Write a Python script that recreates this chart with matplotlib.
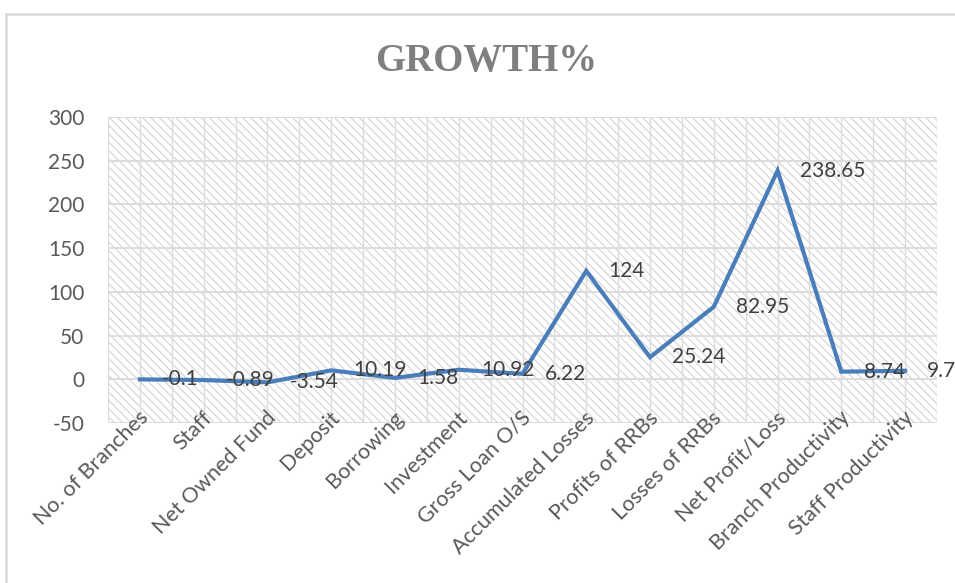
import matplotlib
matplotlib.use("Agg")
import matplotlib.pyplot as plt
from matplotlib.patches import Rectangle
from matplotlib.lines import Line2D
from matplotlib.transforms import ScaledTranslation
import numpy as np

# data
categories = ["No. of Branches", "Staff", "Net Owned Fund", "Deposit", "Borrowing",
              "Investment", "Gross Loan O/S", "Accumulated Losses", "Profits of RRBs",
              "Losses of RRBs", "Net Profit/Loss", "Branch Productivity", "Staff Productivity"]
growth = [-0.1, -0.89, -3.54, 10.19, 1.58, 10.92, 6.22, 124, 25.24, 82.95, 238.65, 8.74, 9.7]
labels = ["-0.1", "-0.89", "-3.54", "10.19", "1.58", "10.92", "6.22", "124", "25.24",
          "82.95", "238.65", "8.74", "9.7"]
yticks = [-50, 0, 50, 100, 150, 200, 250, 300]

plt.rcParams['font.family'] = ['Lato', 'DejaVu Sans']
plt.rcParams['hatch.linewidth'] = 0.7
plt.rcParams['hatch.color'] = '#cfcfcf'

fig = plt.figure(figsize=(9.55, 5.83), dpi=100)
ax = fig.add_axes([108/955, 1 - 423/583, (937-108)/955, (423-117)/583])

x = np.arange(len(categories))

# hatched plot area
ax.add_patch(Rectangle((0, 0), 1, 1, transform=ax.transAxes, facecolor='white',
                       edgecolor='#cfcfcf', hatch='\\\\\\\\', linewidth=0, zorder=0))

ax.set_xlim(-0.5, len(categories) - 0.5)
ax.set_ylim(-50, 300)

# grid lines
for v in np.arange(-0.5, len(categories), 0.5):
    ax.axvline(v, color='#dcdcdc', lw=1.0, zorder=1)
for v in yticks:
    ax.axhline(v, color='#dcdcdc', lw=1.4, zorder=1)

ax.plot(x, growth, color='#4a7ebb', lw=3.0, solid_joinstyle='miter', zorder=3)

for xi, yi, t in zip(x, growth, labels):
    ax.annotate(t, (xi, yi), xytext=(16, 0), textcoords='offset points',
                ha='left', va='center', fontsize=15, color='#404040',
                annotation_clip=False, zorder=4)

for s in ax.spines.values():
    s.set_visible(False)

ax.set_yticks(yticks)
ax.set_yticklabels([str(v) for v in yticks])
ax.tick_params(axis='y', length=0, pad=17, labelsize=15, labelcolor='#595959')
ax.set_xticks(x)
ax.set_xticklabels(categories, rotation=45, ha='right', va='center',
                   rotation_mode='anchor')
ax.tick_params(axis='x', length=0, pad=-6, labelsize=15.5, labelcolor='#595959')
for lab in ax.get_xticklabels():
    lab.set_transform(lab.get_transform() + ScaledTranslation(5/100, 0, fig.dpi_scale_trans))

fig.text(486/955, 1 - 62/583, "GROWTH%", ha='center', va='center',
         fontsize=28, fontweight='bold', color='#7f7f7f', family='Liberation Serif')

# chart border
fig.add_artist(Line2D([6/955, 6/955], [0, 1 - 14/583], color='#d9d9d9', lw=1.8,
                      transform=fig.transFigure))
fig.add_artist(Line2D([6/955, 1], [1 - 14/583, 1 - 14/583], color='#d9d9d9', lw=1.8,
                      transform=fig.transFigure))

fig.savefig("out.png", dpi=100)
